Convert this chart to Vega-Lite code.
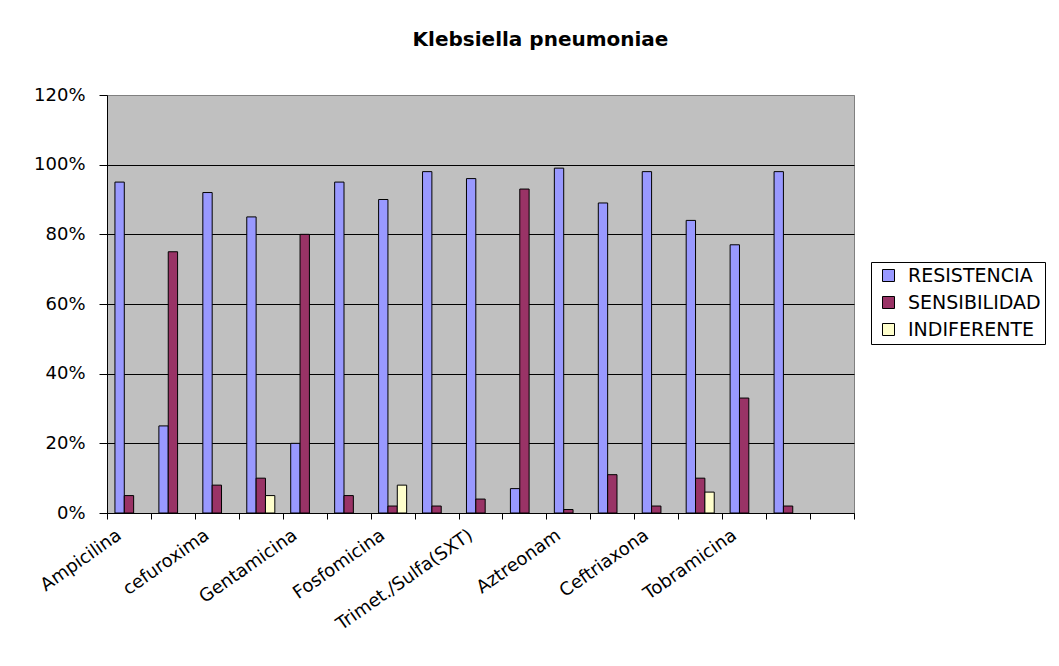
{
  "$schema": "https://vega.github.io/schema/vega-lite/v6.json",
  "width": 747,
  "height": 418,
  "autosize": {"type": "none"},
  "padding": {"left": 107, "top": 95, "right": 205, "bottom": 153},
  "background": "white",
  "title": {
    "text": "Klebsiella pneumoniae",
    "font": "DejaVu Sans",
    "fontSize": 20,
    "fontWeight": "bold",
    "color": "black",
    "anchor": "middle",
    "frame": "group",
    "baseline": "alphabetic",
    "dx": 60,
    "offset": 20
  },
  "data": {
    "values": [
      {"antibiotico": "Ampicilina", "serie": "RESISTENCIA", "valor": 0.95},
      {"antibiotico": "Ampicilina", "serie": "SENSIBILIDAD", "valor": 0.05},
      {"antibiotico": "Sin etiqueta 2", "serie": "RESISTENCIA", "valor": 0.25},
      {"antibiotico": "Sin etiqueta 2", "serie": "SENSIBILIDAD", "valor": 0.75},
      {"antibiotico": "cefuroxima", "serie": "RESISTENCIA", "valor": 0.92},
      {"antibiotico": "cefuroxima", "serie": "SENSIBILIDAD", "valor": 0.08},
      {"antibiotico": "Sin etiqueta 4", "serie": "RESISTENCIA", "valor": 0.85},
      {"antibiotico": "Sin etiqueta 4", "serie": "SENSIBILIDAD", "valor": 0.10},
      {"antibiotico": "Sin etiqueta 4", "serie": "INDIFERENTE", "valor": 0.05},
      {"antibiotico": "Gentamicina", "serie": "RESISTENCIA", "valor": 0.20},
      {"antibiotico": "Gentamicina", "serie": "SENSIBILIDAD", "valor": 0.80},
      {"antibiotico": "Sin etiqueta 6", "serie": "RESISTENCIA", "valor": 0.95},
      {"antibiotico": "Sin etiqueta 6", "serie": "SENSIBILIDAD", "valor": 0.05},
      {"antibiotico": "Fosfomicina", "serie": "RESISTENCIA", "valor": 0.90},
      {"antibiotico": "Fosfomicina", "serie": "SENSIBILIDAD", "valor": 0.02},
      {"antibiotico": "Fosfomicina", "serie": "INDIFERENTE", "valor": 0.08},
      {"antibiotico": "Sin etiqueta 8", "serie": "RESISTENCIA", "valor": 0.98},
      {"antibiotico": "Sin etiqueta 8", "serie": "SENSIBILIDAD", "valor": 0.02},
      {"antibiotico": "Trimet./Sulfa(SXT)", "serie": "RESISTENCIA", "valor": 0.96},
      {"antibiotico": "Trimet./Sulfa(SXT)", "serie": "SENSIBILIDAD", "valor": 0.04},
      {"antibiotico": "Sin etiqueta 10", "serie": "RESISTENCIA", "valor": 0.07},
      {"antibiotico": "Sin etiqueta 10", "serie": "SENSIBILIDAD", "valor": 0.93},
      {"antibiotico": "Aztreonam", "serie": "RESISTENCIA", "valor": 0.99},
      {"antibiotico": "Aztreonam", "serie": "SENSIBILIDAD", "valor": 0.01},
      {"antibiotico": "Sin etiqueta 12", "serie": "RESISTENCIA", "valor": 0.89},
      {"antibiotico": "Sin etiqueta 12", "serie": "SENSIBILIDAD", "valor": 0.11},
      {"antibiotico": "Ceftriaxona", "serie": "RESISTENCIA", "valor": 0.98},
      {"antibiotico": "Ceftriaxona", "serie": "SENSIBILIDAD", "valor": 0.02},
      {"antibiotico": "Sin etiqueta 14", "serie": "RESISTENCIA", "valor": 0.84},
      {"antibiotico": "Sin etiqueta 14", "serie": "SENSIBILIDAD", "valor": 0.10},
      {"antibiotico": "Sin etiqueta 14", "serie": "INDIFERENTE", "valor": 0.06},
      {"antibiotico": "Tobramicina", "serie": "RESISTENCIA", "valor": 0.77},
      {"antibiotico": "Tobramicina", "serie": "SENSIBILIDAD", "valor": 0.33},
      {"antibiotico": "Sin etiqueta 16", "serie": "RESISTENCIA", "valor": 0.98},
      {"antibiotico": "Sin etiqueta 16", "serie": "SENSIBILIDAD", "valor": 0.02}
    ]
  },
  "mark": {"type": "bar", "stroke": "black", "strokeWidth": 1},
  "encoding": {
    "x": {
      "field": "antibiotico",
      "type": "nominal",
      "sort": null,
      "scale": {
        "domain": ["Ampicilina", "Sin etiqueta 2", "cefuroxima", "Sin etiqueta 4", "Gentamicina", "Sin etiqueta 6", "Fosfomicina", "Sin etiqueta 8", "Trimet./Sulfa(SXT)", "Sin etiqueta 10", "Aztreonam", "Sin etiqueta 12", "Ceftriaxona", "Sin etiqueta 14", "Tobramicina", "Sin etiqueta 16", "Sin etiqueta 17"],
        "paddingInner": 0,
        "paddingOuter": 0
      },
      "axis": {
        "title": null,
        "labelAngle": -35,
        "labelAlign": "right",
        "labelBaseline": "top",
        "labelFont": "DejaVu Sans",
        "labelFontSize": 18,
        "labelColor": "black",
        "labelPadding": 7,
        "labelOffset": -15,
        "labelOverlap": false,
        "labelLimit": 0,
        "labelExpr": "isString(datum.value) && indexof(datum.value, 'Sin etiqueta') < 0 ? datum.value : ''",
        "tickBand": "extent",
        "tickColor": "black",
        "tickSize": 6,
        "domainColor": "black",
        "grid": false
      }
    },
    "xOffset": {
      "field": "serie",
      "type": "nominal",
      "scale": {"domain": ["RESISTENCIA", "SENSIBILIDAD", "INDIFERENTE"], "paddingInner": 0, "paddingOuter": 0.85}
    },
    "y": {
      "field": "valor",
      "type": "quantitative",
      "scale": {"domain": [0, 1.2], "nice": false},
      "axis": {
        "title": null,
        "values": [0, 0.2, 0.4, 0.6, 0.8, 1.0, 1.2],
        "format": ".0%",
        "labelFont": "DejaVu Sans",
        "labelFontSize": 18,
        "labelColor": "black",
        "labelPadding": 14,
        "tickSize": 8,
        "tickColor": "black",
        "domainColor": "black",
        "grid": true,
        "gridColor": {"condition": {"test": "datum.value >= 1.19", "value": "#808080"}, "value": "black"},
        "gridWidth": 1,
        "gridOpacity": 1
      }
    },
    "color": {
      "field": "serie",
      "type": "nominal",
      "scale": {"domain": ["RESISTENCIA", "SENSIBILIDAD", "INDIFERENTE"], "range": ["#9999FF", "#993366", "#FFFFCC"]},
      "legend": {
        "title": null,
        "orient": "none",
        "legendX": 764,
        "legendY": 167,
        "strokeColor": "black",
        "fillColor": "white",
        "padding": 4,
        "symbolOffset": 4,
        "symbolType": "square",
        "symbolSize": 144,
        "symbolStrokeColor": "black",
        "symbolStrokeWidth": 1,
        "symbolOpacity": 1,
        "labelFont": "DejaVu Sans",
        "labelFontSize": 19,
        "labelColor": "black",
        "labelOffset": 10,
        "labelLimit": 0,
        "rowPadding": 7
      }
    }
  },
  "config": {
    "view": {"fill": "#C0C0C0", "stroke": "#808080", "strokeWidth": 1}
  }
}
